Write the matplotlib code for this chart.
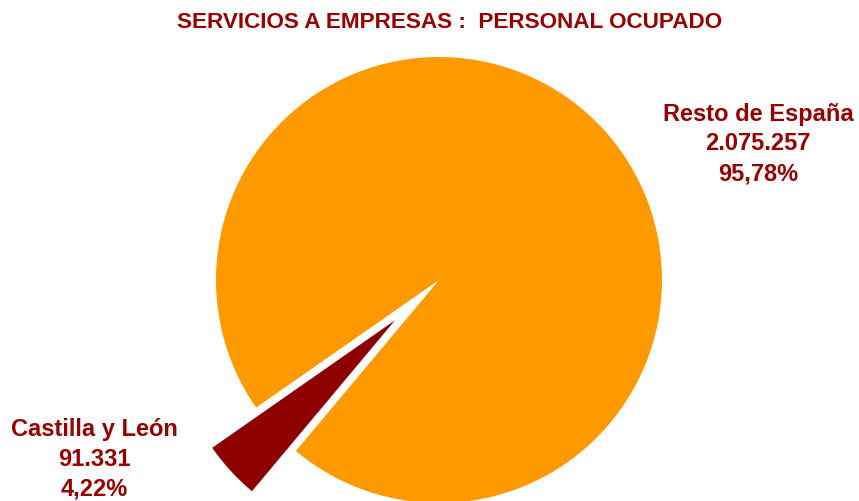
import matplotlib
matplotlib.use("Agg")
import matplotlib.pyplot as plt

categories = ["Castilla y León", "Resto de España"]
values = [91331, 2075257]
colors = ["#8E0000", "#FF9900"]
explode = [0.267, 0.0]

title = "SERVICIOS A EMPRESAS :  PERSONAL OCUPADO"
text_color = "#990000"

plt.rcParams['font.family'] = ['Liberation Sans', 'DejaVu Sans']

W, H = 859, 501
fig = plt.figure(figsize=(W / 100, H / 100), dpi=100)
ax = fig.add_axes([0, 0, 1, 1])

R = 223.0  # px per unit radius
cx, cy = 439.0, 280.0  # center in px from top-left
ax.pie(values, colors=colors, explode=explode, startangle=214.9,
       counterclock=True, radius=1.0,
       wedgeprops=dict(linewidth=0))
ax.set_aspect('auto')
ax.set_xlim(-cx / R, (W - cx) / R)
ax.set_ylim(-(H - cy) / R, cy / R)
ax.axis('off')

total = sum(values)

def fmt_num(v):
    return f"{v:,}".replace(",", ".")

def fmt_pct(v):
    return f"{v / total * 100:.2f}".replace(".", ",") + "%"

label_pos = [(94, 459), (758, 144)]  # px from top-left (center of block)
for cat, v, (px, py) in zip(categories, values, label_pos):
    fig.text(px / W, 1 - py / H, f"{cat}\n{fmt_num(v)}\n{fmt_pct(v)}",
             ha='center', va='center', fontsize=17, fontweight='bold',
             color=text_color, linespacing=1.38)

fig.text(450 / W, 1 - 22 / H, title, ha='center', va='center',
         fontsize=16.2, fontweight='bold', color=text_color)

fig.savefig("out.png", dpi=100)
